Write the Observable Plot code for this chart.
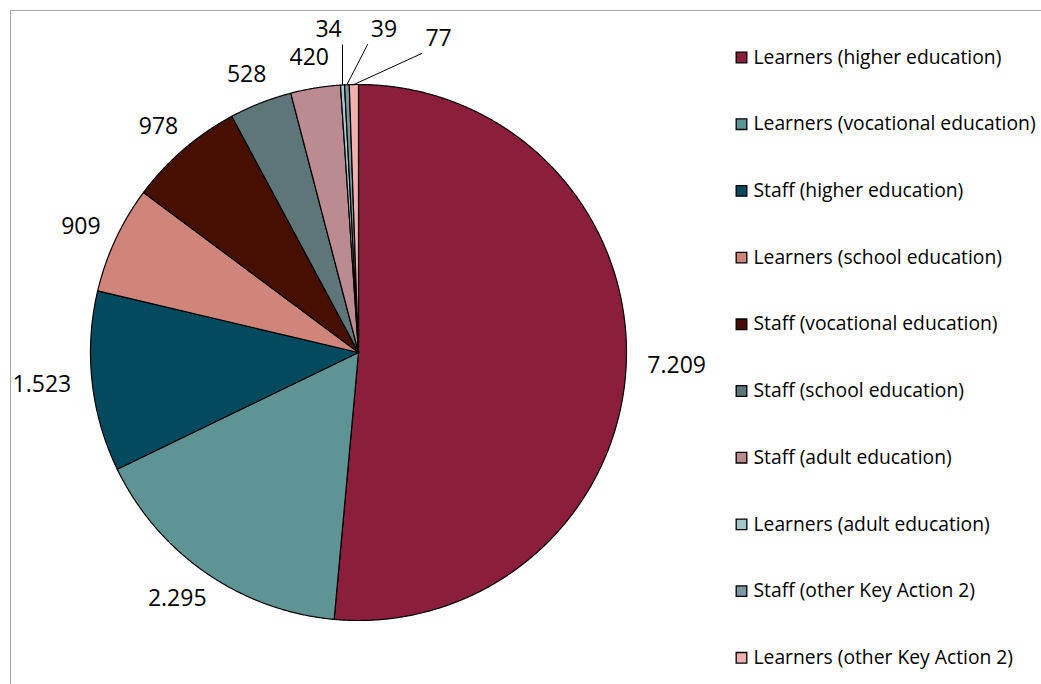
<!DOCTYPE html>
<html>
<head>
<meta charset="utf-8">
<script src="https://cdn.jsdelivr.net/npm/d3@7"></script>
<script src="https://cdn.jsdelivr.net/npm/@observablehq/plot@0.6"></script>
<style>
  html, body { margin: 0; padding: 0; background: #fff; overflow: hidden; }
  #wrap { position: relative; width: 1041px; height: 684px; overflow: hidden; }
  #border { position: absolute; left: 10px; top: 10px; width: 1200px; height: 900px;
            border-left: 1.5px solid #a6a6a6; border-top: 1.5px solid #a6a6a6; pointer-events: none; }
  #chart { position: absolute; left: 0; top: 0; }
</style>
</head>
<body>
<div id="wrap"><div id="chart"></div><div id="border"></div></div>
<script>
// ---- data ----
const categories = [
  "Learners (higher education)",
  "Learners (vocational education)",
  "Staff (higher education)",
  "Learners (school education)",
  "Staff (vocational education)",
  "Staff (school education)",
  "Staff (adult education)",
  "Learners (adult education)",
  "Staff (other Key Action 2)",
  "Learners (other Key Action 2)"
];
const values = [7209, 2295, 1523, 909, 978, 528, 420, 34, 39, 77];
const colors = [
  "#8b1e3b", "#5f9495", "#044a5e", "#d0857a", "#470f01",
  "#5e7678", "#bc8a91", "#a5c9ca", "#7f95a0", "#eeb1ad"
];

// ---- layout ----
const W = 1041, H = 684;
const cx = 358, cy = 352, R = 268;
const labelSize = 23;
const fmt = d3.formatLocale({decimal: ",", thousands: ".", grouping: [3], currency: ["", ""]}).format(",");

const total = d3.sum(values);
const pie = d3.pie().sort(null).value(d => d)(values);

const toX = px => (px - cx) / R;
const toY = py => (cy - py) / R;

// slice polygons (clockwise from 12 o'clock)
const slicePts = [];
pie.forEach((p, i) => {
  const cat = categories[i];
  slicePts.push({cat, x: 0, y: 0});
  const n = Math.max(2, Math.ceil((p.endAngle - p.startAngle) / 0.004));
  for (let k = 0; k <= n; k++) {
    const a = p.startAngle + (p.endAngle - p.startAngle) * k / n;
    slicePts.push({cat, x: Math.sin(a), y: Math.cos(a)});
  }
  slicePts.push({cat, x: 0, y: 0});
});

// labels: text box placed just outside the circle along the mid-angle
const labels = [];
const leaders = [];
let smallIdx = 0;
pie.forEach((p, i) => {
  const mid = (p.startAngle + p.endAngle) / 2;
  const frac = values[i] / total;
  const text = fmt(values[i]);
  const w = text.length * labelSize * 0.53, h = labelSize * 0.95;
  const ux = Math.sin(mid), uy = -Math.cos(mid); // pixel-space direction
  if (frac < 0.01) {
    const la = (-5.3 + smallIdx * 9.8) * Math.PI / 180;
    smallIdx++;
    const lr = 1.21;
    const lpx = cx + lr * R * Math.sin(la), lpy = cy - lr * R * Math.cos(la);
    labels.push({text, x: toX(lpx), y: toY(lpy)});
    const ex = cx + R * ux, ey = cy + R * uy;
    const pad = 4;
    const bx0 = lpx - w / 2 - pad, bx1 = lpx + w / 2 + pad, by0 = lpy - h / 2 - pad, by1 = lpy + h / 2 + pad;
    const qx = Math.min(Math.max(ex, bx0), bx1), qy = Math.min(Math.max(ey, by0), by1);
    leaders.push({x1: toX(ex), y1: toY(ey), x2: toX(qx), y2: toY(qy)});
  } else {
    const gap = 20;
    const px = cx + (R + gap) * ux + ux * w / 2;
    const py = cy + (R + gap) * uy + uy * h / 2;
    labels.push({text, x: toX(px), y: toY(py)});
  }
});

// legend (converted to the pie's data units)
const legend = categories.map((c, i) => ({cat: c, x: toX(741), tx: toX(753), y: toY(57 + i * 66.7)}));

const plot = Plot.plot({
  width: W, height: H,
  marginLeft: cx - R, marginRight: W - (cx + R),
  marginTop: cy - R, marginBottom: H - (cy + R),
  x: {domain: [-1, 1], axis: null},
  y: {domain: [-1, 1], axis: null},
  color: {domain: categories, range: colors},
  style: {fontFamily: "'Open Sans', sans-serif", background: "transparent", overflow: "visible"},
  marks: [
    Plot.line(slicePts, {x: "x", y: "y", z: "cat", fill: "cat", stroke: "#000", strokeWidth: 1.2, strokeLinejoin: "round"}),
    Plot.link(leaders, {x1: "x1", y1: "y1", x2: "x2", y2: "y2", stroke: "#000", strokeWidth: 1}),
    Plot.text(labels, {x: "x", y: "y", text: "text", fontSize: labelSize, fill: "#000"}),
    Plot.dot(legend, {x: "x", y: "y", fill: "cat", symbol: "square", r: 6, stroke: "#000", strokeWidth: 1.3}),
    Plot.text(legend, {x: "tx", y: "y", text: "cat", textAnchor: "start", fontSize: 19.3, fill: "#000"})
  ]
});
document.getElementById("chart").appendChild(plot);
</script>
</body>
</html>
